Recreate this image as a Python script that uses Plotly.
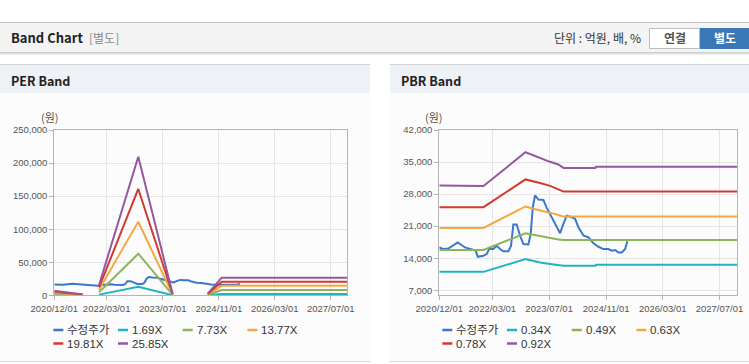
import plotly.graph_objects as go

W, H = 749, 364

# ---------------- data ----------------
price_dates = ["2020-12-01", "2021-01-04", "2021-02-16", "2021-05-08", "2021-07-10", "2021-09-05",
               "2021-10-09", "2021-10-27", "2021-12-14", "2022-01-12", "2022-02-01", "2022-03-09",
               "2022-04-08", "2022-05-06", "2022-06-03", "2022-07-16", "2022-08-08", "2022-08-28",
               "2022-09-26", "2022-10-25", "2022-11-22", "2023-01-04", "2023-01-24", "2023-02-11",
               "2023-03-02", "2023-03-31", "2023-05-13", "2023-06-11", "2023-07-24", "2023-08-30",
               "2023-10-03", "2023-10-31", "2023-11-29", "2024-01-11", "2024-02-09", "2024-03-08",
               "2024-04-20", "2024-06-02", "2024-07-15", "2024-08-27", "2024-10-08", "2024-11-20",
               "2024-12-20", "2025-01-17", "2025-02-14", "2025-03-15", "2025-04-13", "2025-05-02"]
price_vals = [16400, 16000, 16100, 17450, 16350, 16000,
              15650, 14300, 14550, 14900, 16000, 16000,
              16700, 16000, 15500, 15500, 16700, 21350,
              21350, 18900, 17100, 17000, 19300, 25150,
              27700, 26800, 26700, 25000, 22950, 21150,
              19450, 21500, 23300, 22950, 22600, 20750,
              18950, 18550, 17250, 16500, 16000, 16000,
              15650, 15800, 15250, 15250, 16000, 17700]

per_dates = ["2020-12-01", "2021-08-05", "2021-10-01", "2021-12-25", "2022-12-01",
             "2023-09-26", "2024-02-01", "2024-07-27", "2024-11-25", "2027-12-01"]
per_1_69 = [455, 90, None, 1010, 13000, 135, None, 170, 2000, 2000]
per_7_73 = [2080, 420, None, 4640, 62900, 620, None, 770, 8000, 8000]
per_13_77 = [3700, 750, None, 8260, 111300, 1100, None, 1380, 14300, 14300]
per_19_81 = [5340, 1070, None, 11900, 160800, 1580, None, 2000, 20500, 20500]
per_25_85 = [6950, 1400, None, 15500, 209600, 2070, None, 2600, 26600, 26600]

pbr_dates = ["2020-12-01", "2021-09-05", "2021-12-15", "2022-12-10", "2023-02-01", "2023-04-14",
             "2023-07-09", "2023-09-18", "2023-11-01", "2024-08-01", "2024-08-05", "2027-12-01"]
pbr_0_34 = [11020, 11020, 11020, 13800, 13500, 13060, 12750, 12450, 12340, 12340, 12560, 12560]
pbr_0_49 = [15800, 15800, 15800, 19450, 19200, 18700, 18400, 18100, 17980, 17980, 17980, 17980]
pbr_0_63 = [20600, 20600, 20600, 25300, 24900, 24420, 23950, 23450, 23100, 23100, 23100, 23100]
pbr_0_78 = [25150, 25150, 25150, 31200, 30800, 30420, 29800, 29100, 28550, 28550, 28550, 28550]
pbr_0_92 = [29900, 29900, 29750, 37150, 36600, 35780, 35050, 34460, 33720, 33720, 33950, 33950]

per_names = ["수정주가", "1.69X", "7.73X", "13.77X", "19.81X", "25.85X"]
pbr_names = ["수정주가", "0.34X", "0.49X", "0.63X", "0.78X", "0.92X"]

x_tick_dates = ["2020-12-01", "2022-03-01", "2023-07-01", "2024-11-01", "2026-03-01", "2027-07-01"]
x_tick_text = ["2020/12/01", "2022/03/01", "2023/07/01", "2024/11/01", "2026/03/01", "2027/07/01"]
per_y_ticks = [0, 50000, 100000, 150000, 200000, 250000]
pbr_y_ticks = [7000, 14000, 21000, 28000, 35000, 42000]

colors = ["#3a78c9", "#1fb3c4", "#8db45a", "#f2a93f", "#d13a2f", "#94589f"]

# ---------------- helpers ----------------
def px(x):
    return x / W


def py(y):
    return 1 - y / H


TICK_FONT = dict(family="Liberation Sans, Arial, sans-serif", size=9.5, color="#555555")
KR = "Noto Sans CJK KR, Liberation Sans, sans-serif"

fig = go.Figure()

# PER traces
per_series = [per_1_69, per_7_73, per_13_77, per_19_81, per_25_85]
fig.add_trace(go.Scatter(x=price_dates, y=price_vals, mode="lines", name=per_names[0],
                         line=dict(color=colors[0], width=2), xaxis="x", yaxis="y",
                         showlegend=False))
for i, s in enumerate(per_series):
    fig.add_trace(go.Scatter(x=per_dates, y=s, mode="lines", name=per_names[i + 1],
                             line=dict(color=colors[i + 1], width=2), xaxis="x", yaxis="y",
                             connectgaps=False, showlegend=False))

# PBR traces
pbr_series = [pbr_0_34, pbr_0_49, pbr_0_63, pbr_0_78, pbr_0_92]
fig.add_trace(go.Scatter(x=price_dates, y=price_vals, mode="lines", name=pbr_names[0],
                         line=dict(color=colors[0], width=2), xaxis="x2", yaxis="y2",
                         showlegend=False))
for i, s in enumerate(pbr_series):
    fig.add_trace(go.Scatter(x=pbr_dates, y=s, mode="lines", name=pbr_names[i + 1],
                             line=dict(color=colors[i + 1], width=2), xaxis="x2", yaxis="y2",
                             showlegend=False))

axis_common = dict(showline=True, mirror=True, linecolor="#b4b4b4", linewidth=1,
                   showgrid=True, gridcolor="#e6e6e6", gridwidth=1, zeroline=False,
                   ticks="outside", ticklen=4, tickcolor="#b4b4b4", tickfont=TICK_FONT,
                   automargin=False)

plot_top, plot_bot = 130, 295.3

fig.update_layout(
    width=W, height=H,
    autosize=False,
    margin=dict(l=0, r=0, t=0, b=0, pad=0),
    paper_bgcolor="#ffffff",
    plot_bgcolor="rgba(0,0,0,0)",
    hovermode=False,
    showlegend=False,
    xaxis=dict(domain=[px(54.3), px(347.3)], anchor="y", type="date",
               range=["2020-12-01", "2027-11-22"], tickmode="array",
               tickvals=x_tick_dates, ticktext=x_tick_text, **axis_common),
    yaxis=dict(domain=[py(plot_bot), py(plot_top)], anchor="x", range=[0, 250000],
               tickmode="array", tickvals=per_y_ticks, tickformat=",d", **axis_common),
    xaxis2=dict(domain=[px(439.3), px(737.3)], anchor="y2", type="date",
                range=["2020-12-01", "2027-12-01"], tickmode="array",
                tickvals=x_tick_dates, ticktext=x_tick_text, **axis_common),
    yaxis2=dict(domain=[py(plot_bot), py(plot_top)], anchor="x2", range=[5900, 42000],
                tickmode="array", tickvals=pbr_y_ticks, tickformat=",d", **axis_common),
)

shapes = []


def rect(x0, y0, x1, y1, fill, line=None, layer="below"):
    shapes.append(dict(type="rect", xref="paper", yref="paper",
                       x0=px(x0), x1=px(x1), y0=py(y1), y1=py(y0),
                       fillcolor=fill, line=dict(width=1 if line else 0, color=line or fill),
                       layer=layer))


def hline(x0, x1, y, color, width=1, layer="below"):
    shapes.append(dict(type="line", xref="paper", yref="paper",
                       x0=px(x0), x1=px(x1), y0=py(y), y1=py(y),
                       line=dict(color=color, width=width), layer=layer))


# page header bar
rect(0, 22, W, 52.5, "#f4f4f4")
hline(0, W, 22.5, "#c4c4c4")
hline(0, W, 52.5, "#cdcdcd")
hline(0, W, 53.5, "#e0e0e0")
hline(0, W, 54.5, "#eeeeee")

# buttons
rect(649.5, 28.5, 699.5, 48.5, "#ffffff", line="#bdbdbd")
rect(700, 28, W, 49, "#3a77b6")

# panels
for (x0, x1) in [(0, 370), (390, W)]:
    rect(x0, 64, x1, 362, "#fcfcfc")
    rect(x0, 64, x1, 93, "#eef1f5")
    hline(x0, x1, 64.5, "#d3d3d3")
    hline(x0, x1, 361.5, "#d8d8d8")

annotations = []


def text(x, y, s, size, color, family=KR, xanchor="left", weight="normal"):
    annotations.append(dict(xref="paper", yref="paper", x=px(x), y=py(y), text=s,
                            showarrow=False, xanchor=xanchor, yanchor="middle",
                            font=dict(family=family, size=size, color=color, weight=weight)))


text(9, 38, "Band Chart", 13, "#222222", weight="bold")
text(87, 38, "[별도]", 12, "#8a8a8a")
text(643, 38, "단위 : 억원, 배, %", 12, "#333333", xanchor="right")
text(674.5, 38, "연결", 12, "#555555", xanchor="center", weight="bold")
text(724.5, 38, "별도", 12, "#ffffff", xanchor="center", weight="bold")
text(9, 80, "PER Band", 12.5, "#222222", weight="bold")
text(399, 80, "PBR Band", 12.5, "#222222", weight="bold")
text(50, 117.5, "(원)", 11, "#555555", xanchor="center")
text(434.5, 117.5, "(원)", 11, "#555555", xanchor="center")

# custom legends (short line + label)
LEG_FONT = "Liberation Sans, Noto Sans CJK KR, sans-serif"
for names, base_x in [(per_names, 53.3), (pbr_names, 442.3)]:
    for i, name in enumerate(names):
        col, row = i % 4, i // 4
        x0 = base_x + col * 64.7
        y = 330 + row * 13.5
        hline(x0, x0 + 10, y, colors[i], width=2.5, layer="above")
        text(x0 + 12, y, name, 11.5, "#333333", family=LEG_FONT)

fig.update_layout(shapes=shapes, annotations=annotations)

# the page is shown in a window exactly the figure's size: drop the default body margin
fig.write_html(
    "out.html",
    config={"displayModeBar": False, "staticPlot": True},
    post_script="document.body.style.margin='0';document.body.style.overflow='hidden';",
)
